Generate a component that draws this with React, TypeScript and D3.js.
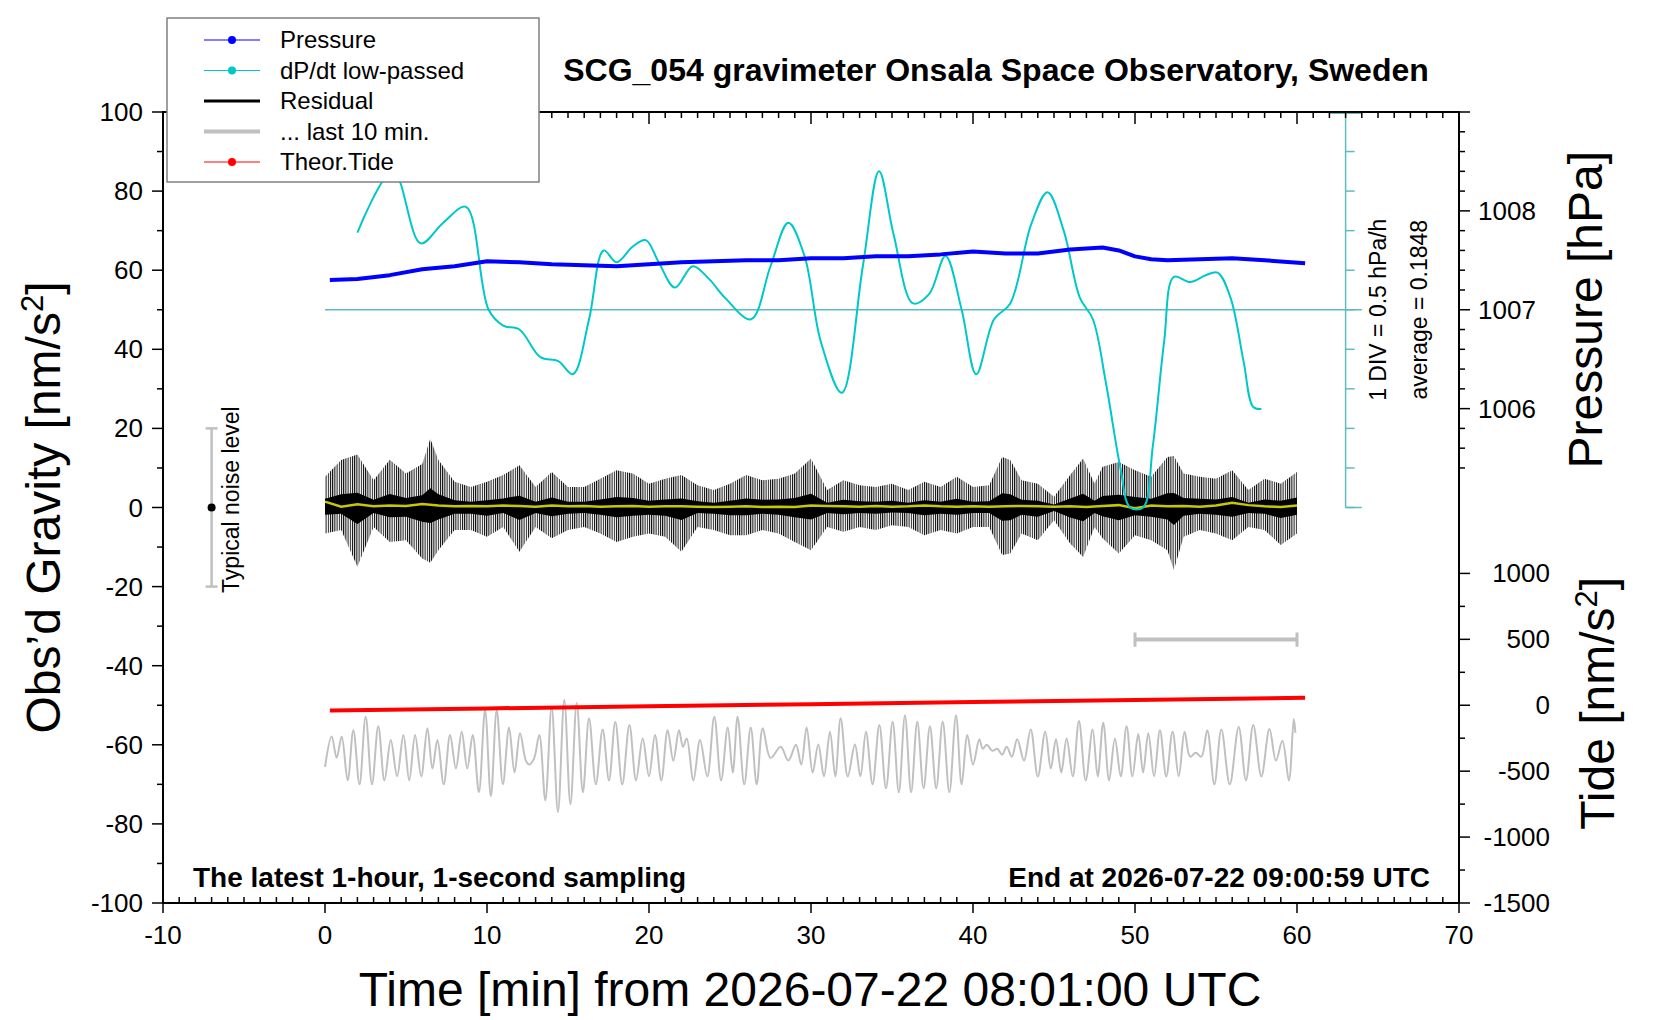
import React from 'react';
import * as d3 from 'd3';

const FONT = '"Liberation Sans", Arial, sans-serif';

// Pressure [hPa] vs time [min]
const pressT = [0.3, 2, 4, 6, 8, 10, 12, 14, 16, 18, 20, 22, 24, 26, 28, 30, 32, 34, 36, 38, 40, 42, 44, 46, 48, 49, 50, 51, 52, 54, 56, 58, 60.5];
const pressV = [1007.30, 1007.31, 1007.35, 1007.41, 1007.44, 1007.49, 1007.48, 1007.46, 1007.45, 1007.44, 1007.46, 1007.48, 1007.49, 1007.50, 1007.50, 1007.52, 1007.52, 1007.54, 1007.54, 1007.56, 1007.59, 1007.57, 1007.57, 1007.61, 1007.63, 1007.60, 1007.54, 1007.51, 1007.50, 1007.51, 1007.52, 1007.50, 1007.47];

// dP/dt low-passed, in plot units (50 = average, 10 = 0.5 hPa/h)
const dpdt: [number, number][] = [
  [2, 69.5], [4.2, 85], [5.9, 66.8], [7.3, 72], [8.7, 76], [10.1, 50], [11, 46], [12, 45], [13.3, 38], [14.4, 37], [15.3, 33.7],
  [16.3, 47.6], [17.2, 65], [18, 62], [19, 66], [19.8, 67.6], [20.6, 62], [21.6, 55.6], [22.7, 61], [23.7, 57.8], [24.7, 53],
  [26.3, 47.6], [27.5, 61], [28.6, 72], [29.6, 63.6], [30.6, 42], [31.9, 29], [33.2, 61], [34.2, 85], [35.1, 69], [36.3, 51.6],
  [37.3, 54], [38.3, 63.6], [39.3, 50], [40.2, 33.7], [41.3, 47.6], [42.3, 51.6], [43.6, 71.7], [44.6, 79.7], [45.6, 70],
  [46.6, 53], [47.4, 47.6], [48.2, 31.6], [49.1, 10], [49.7, 0], [50.5, 0], [51.1, 15.5], [51.8, 42], [52.4, 58.3], [53.4, 57],
  [54.4, 58.8], [55.1, 59.4], [55.9, 53], [56.7, 37], [57.3, 25.4], [57.8, 24.9],
];

// Residual envelope [nm/s^2]
const resT = [0, 1, 2, 3, 4, 5, 6, 6.5, 7, 8, 9, 10, 11, 12, 13, 14, 15, 16, 17, 18, 19, 20, 21, 22, 23, 24, 25, 26, 27, 28, 29, 30, 31, 32, 33, 34, 35, 36, 37, 38, 39, 40, 41, 41.8, 42.3, 43, 44, 45, 46, 46.8, 47.5, 48, 49, 50, 51, 52, 52.4, 53, 54, 55, 56, 57, 58, 59, 60];
const resHi = [7.8, 12, 13.4, 6.9, 12.1, 8.6, 11, 17.4, 12, 6.5, 5.2, 6.5, 8.2, 10.7, 5.2, 9, 5.2, 5.2, 7.3, 9.4, 8.6, 6, 7.3, 8.2, 5.6, 4.4, 6, 8.2, 6.9, 7.3, 8.6, 12.4, 4.4, 6.9, 5.6, 5.2, 6, 4.4, 6.5, 5.2, 7.8, 5.2, 5.6, 12.8, 12, 6.9, 6, 2.7, 8.2, 12.4, 6, 10.3, 11.5, 9.4, 7.8, 12.8, 13, 8.6, 7.8, 7.3, 9.4, 4.4, 7.3, 6, 9];
const resLo = [-6.6, -5.7, -15, -4.9, -8.7, -8.3, -12.9, -14, -10.8, -5.7, -5.7, -7.4, -4.9, -11.2, -4.9, -7.8, -5.7, -4.9, -6.6, -8.7, -7.4, -6.6, -7.4, -11.2, -4.9, -5.7, -7, -7, -5.7, -6.6, -8.7, -10.8, -4.9, -6.1, -4.9, -5.7, -4.5, -4.9, -7, -5.7, -6.6, -4.9, -4.9, -12, -11.6, -6.6, -8.3, -3.2, -9.1, -12.5, -4.9, -7.8, -11.6, -7, -8.3, -10.8, -15.8, -7.4, -5.7, -6.6, -8.3, -4.9, -5.7, -9.5, -6.6];

// Smoothed residual (yellow), one per minute
const smooth = [1.5, 0.2, 0.8, 0.3, 0.5, 0.4, 0.9, 0.5, 0.3, 0.4, 0.3, 0.5, 0.4, 0.2, 0.5, 0.3, 0.4, 0.2, 0.3, 0.4, 0.2, 0.3, 0.3, 0.2, 0.1, 0.2, 0.3, 0.1, 0.2, 0.1, 0.5, 0.4, 0.3, 0.2, 0.4, 0.2, 0.3, 0.5, 0.3, 0.2, 0.3, 0.2, 0.3, 0.4, 0.3, 0.2, 0.3, 0.1, 0.4, 0.6, -0.2, 0.5, 0.3, 0.4, 0.2, 0.5, 1.2, 0.6, 0.3, 0.1, 0.5];

// Last 10 min residual stretched over the hour (gray), peaks and troughs
const last10: [number, number][] = [
  [0, -65.6], [0.41, -57.9], [0.72, -63.3], [1.03, -57.9], [1.4, -69], [1.75, -56.3], [2.13, -70], [2.51, -52.9], [2.9, -70], [3.29, -55.3], [3.67, -69], [4.06, -58.8], [4.45, -68], [4.84, -57.5], [5.2, -69], [5.56, -57.5], [5.94, -68], [6.32, -55.8], [6.63, -66], [6.94, -58.8], [7.33, -70], [7.72, -57.5], [8.08, -66], [8.44, -56.7], [8.78, -66], [9.12, -57.5], [9.5, -72], [9.88, -51.2], [10.24, -73], [10.6, -51.2], [10.98, -70], [11.36, -55.6], [11.7, -67], [12.04, -57.1], [12.4, -64], [12.6, -65], [12.9, -63.5], [13.23, -57.5], [13.6, -74], [13.99, -50.4], [14.38, -77], [14.77, -48.7], [15.15, -75], [15.54, -49.4], [15.92, -72], [16.3, -53.3], [16.72, -70], [17.14, -56.1], [17.53, -69], [17.92, -54.2], [18.35, -70], [18.79, -55], [19.2, -69], [19.61, -58.4], [20, -68], [20.37, -57.5], [20.76, -69], [21.15, -56.3], [21.5, -64], [21.85, -56.3], [22.1, -60.5], [22.33, -58.4], [22.74, -69], [23.15, -58.8], [23.6, -68], [24.03, -52.9], [24.45, -69], [24.86, -55.6], [25.17, -67], [25.47, -52.9], [25.88, -70], [26.28, -55.6], [26.65, -70], [27.02, -55.8], [27.5, -63.3], [28.13, -60.5], [28.6, -64], [29.07, -60], [29.4, -65], [29.73, -55.6], [30.1, -67], [30.45, -59.9], [30.8, -68], [31.17, -56.7], [31.5, -68], [31.83, -53.3], [32.27, -68], [32.71, -59.9], [33.05, -68], [33.39, -56.7], [33.8, -70], [34.22, -55], [34.63, -71], [35.04, -54.2], [35.42, -72], [35.8, -52.5], [36.18, -72], [36.56, -54.2], [36.95, -71], [37.34, -55.3], [37.73, -71], [38.13, -54.2], [38.54, -72], [38.95, -52.5], [39.3, -70], [39.65, -57.5], [40, -65], [40.39, -58.6], [40.6, -61], [40.84, -60], [41.2, -61.5], [41.5, -61], [41.8, -62.5], [42.08, -60.5], [42.4, -63], [42.73, -58.6], [43.15, -64], [43.56, -56.1], [44, -68], [44.46, -56.7], [44.8, -66], [45.12, -58.6], [45.45, -67], [45.78, -58.4], [46.16, -68], [46.54, -54], [46.96, -69], [47.38, -56.1], [47.7, -68], [48.04, -54.4], [48.4, -69], [48.76, -58.4], [49.12, -68], [49.48, -55.3], [49.84, -68], [50.2, -57.3], [50.5, -67], [50.82, -57.1], [51.18, -68], [51.54, -56.3], [51.93, -68], [52.32, -56.7], [52.7, -68], [53.06, -56.7], [53.4, -63], [53.75, -62], [54.1, -63], [54.46, -56.3], [54.9, -70], [55.33, -56.1], [55.85, -70], [56.4, -55.5], [56.85, -69], [57.3, -55], [57.8, -68], [58.3, -56], [58.7, -64], [59.1, -59], [59.5, -69], [59.8, -53.5], [59.9, -57],
];

// Theoretical tide [nm/s^2]
const tideT = [0.3, 10, 20, 30, 40, 50, 60.5];
const tideV = [-39, -24, -8, 8, 24, 40, 57];

const xTicks = [-10, 0, 10, 20, 30, 40, 50, 60, 70];
const yTicks = [-100, -80, -60, -40, -20, 0, 20, 40, 60, 80, 100];
const pressTicks = [1006, 1007, 1008];
const tideTicks = [-1500, -1000, -500, 0, 500, 1000];

const legendItems = [
  { label: 'Pressure', color: '#0000ff', w: 1, dot: true },
  { label: 'dP/dt low-passed', color: '#00c8c8', w: 1, dot: true },
  { label: 'Residual', color: '#000000', w: 3, dot: false },
  { label: '... last 10 min.', color: '#c0c0c0', w: 4, dot: false },
  { label: 'Theor.Tide', color: '#ff0000', w: 1, dot: true },
];

const x = d3.scaleLinear().domain([-10, 70]).range([163, 1459]);
const y = d3.scaleLinear().domain([-100, 100]).range([903, 112]);
const pToG = (p: number) => 50 + (p - 1007) * 25;
const tideToG = (t: number) => t / 30 - 50;

export default function App() {
  const line = d3.line<[number, number]>().x(d => x(d[0])).y(d => y(d[1]));
  const curve = d3.line<[number, number]>().x(d => x(d[0])).y(d => y(d[1])).curve(d3.curveCatmullRom.alpha(0.5));
  const resArea = d3.area<number>().x((_, i) => x(resT[i])).y0((_, i) => y(resLo[i])).y1((_, i) => y(resHi[i]));
  const coreArea = d3.area<number>().x((_, i) => x(resT[i])).y0((_, i) => y(resLo[i] * 0.28)).y1((_, i) => y(resHi[i] * 0.28));
  const pressPts: [number, number][] = pressT.map((t, i) => [t, pToG(pressV[i])]);
  const tidePts: [number, number][] = tideT.map((t, i) => [t, tideToG(tideV[i])]);
  const smoothPts: [number, number][] = smooth.map((v, i) => [i, v]);
  const dTicks = d3.range(0, 101, 10);
  const teal = '#5fbcbc';

  return (
    <svg width={1660} height={1020} style={{ position: 'absolute', left: 0, top: 0, fontFamily: FONT }}>
      <defs>
        <pattern id="noise" width={2.2} height={4} patternUnits="userSpaceOnUse">
          <rect width={1} height={4} fill="#000" />
        </pattern>
        <clipPath id="plot"><rect x={163} y={112} width={1296} height={791} /></clipPath>
      </defs>

      <text x={996} y={81} textAnchor="middle" fontSize={32} fontWeight="bold">SCG_054 gravimeter Onsala Space Observatory, Sweden</text>

      <g clipPath="url(#plot)">
        {/* dP/dt axis */}
        <line x1={x(0)} x2={x(64)} y1={y(50)} y2={y(50)} stroke={teal} strokeWidth={1.5} />
        <line x1={x(63)} x2={x(63)} y1={y(0)} y2={y(100)} stroke={teal} strokeWidth={1.5} />
        <line x1={x(63)} x2={x(64)} y1={y(0)} y2={y(0)} stroke={teal} strokeWidth={1.5} />
        <line x1={x(62)} x2={x(64)} y1={y(100) + 1} y2={y(100) + 1} stroke={teal} strokeWidth={2} />
        {dTicks.map(v => (
          <line key={v} x1={x(63)} x2={x(63) + 9} y1={y(v)} y2={y(v)} stroke={teal} strokeWidth={1.5} />
        ))}

        {/* residual */}
        <path d={resArea(resT) ?? ''} fill="url(#noise)" />
        <path d={coreArea(resT) ?? ''} fill="#000" />
        <path d={line(smoothPts) ?? ''} fill="none" stroke="#c8c800" strokeWidth={2.5} />

        <path d={curve(dpdt) ?? ''} fill="none" stroke="#00c8c8" strokeWidth={2} />
        <path d={line(pressPts) ?? ''} fill="none" stroke="#0000ff" strokeWidth={4} strokeLinejoin="round" />
        <path d={curve(last10) ?? ''} fill="none" stroke="#c0c0c0" strokeWidth={2} />
        <path d={line(tidePts) ?? ''} fill="none" stroke="#ff0000" strokeWidth={4} />

        {/* 10-min scale bar */}
        <g stroke="#c0c0c0" strokeWidth={4}>
          <line x1={x(50)} x2={x(60)} y1={y(-33.4)} y2={y(-33.4)} />
          <line x1={x(50)} x2={x(50)} y1={y(-31.6)} y2={y(-35.2)} strokeWidth={3} />
          <line x1={x(60)} x2={x(60)} y1={y(-31.6)} y2={y(-35.2)} strokeWidth={3} />
        </g>

        {/* typical noise level */}
        <g stroke="#c0c0c0" strokeWidth={2.5}>
          <line x1={x(-7)} x2={x(-7)} y1={y(-20)} y2={y(20)} />
          <line x1={x(-7) - 6} x2={x(-7) + 6} y1={y(20)} y2={y(20)} />
          <line x1={x(-7) - 6} x2={x(-7) + 6} y1={y(-20)} y2={y(-20)} />
        </g>
        <circle cx={x(-7)} cy={y(0)} r={4} fill="#000" />
        <text transform={`translate(${x(-5.3)},${y(2)}) rotate(-90)`} textAnchor="middle" fontSize={23}>Typical noise level</text>
      </g>

      <rect x={163} y={112} width={1296} height={791} fill="none" stroke="#000" strokeWidth={2} />

      {d3.range(-10, 71, 1).map(t => (
        <g key={t}>
          <line x1={x(t)} x2={x(t)} y1={903} y2={t % 10 === 0 ? 913 : 897} stroke="#000" strokeWidth={1.5} />
          <line x1={x(t)} x2={x(t)} y1={112} y2={t % 10 === 0 ? 124 : 118} stroke="#000" strokeWidth={1.5} />
        </g>
      ))}
      {xTicks.map(t => (
        <text key={t} x={x(t)} y={944} textAnchor="middle" fontSize={26}>{t}</text>
      ))}
      <text x={810} y={1006} textAnchor="middle" fontSize={48}>Time [min] from 2026-07-22 08:01:00 UTC</text>

      {d3.range(-100, 101, 10).map(v => (
        <line key={v} x1={163} x2={v % 20 === 0 ? 152 : 157} y1={y(v)} y2={y(v)} stroke="#000" strokeWidth={1.5} />
      ))}
      {yTicks.map(v => (
        <text key={v} x={143} y={y(v) + 9} textAnchor="end" fontSize={26}>{v}</text>
      ))}
      <text transform={`translate(60,${y(0)}) rotate(-90)`} textAnchor="middle" fontSize={48}>
        Obs’d Gravity [nm/s<tspan dy={-17} fontSize={31}>2</tspan><tspan dy={17}>]</tspan>
      </text>

      {d3.range(1005.4, 1009.01, 0.2).map(p => {
        const g = pToG(p);
        if (g < 0 || g > 100) return null;
        const major = Math.abs(p - Math.round(p)) < 0.01;
        return <line key={p.toFixed(1)} x1={1459} x2={major ? 1470 : 1465} y1={y(g)} y2={y(g)} stroke="#000" strokeWidth={1.5} />;
      })}
      {pressTicks.map(p => (
        <text key={p} x={1478} y={y(pToG(p)) + 9} fontSize={26}>{p}</text>
      ))}
      <text transform={`translate(1602,${y(50)}) rotate(-90)`} textAnchor="middle" fontSize={48}>Pressure [hPa]</text>

      {d3.range(-1500, 1001, 250).map(v => (
        <line key={v} x1={1459} x2={v % 500 === 0 ? 1470 : 1465} y1={y(tideToG(v))} y2={y(tideToG(v))} stroke="#000" strokeWidth={1.5} />
      ))}
      {tideTicks.map(v => (
        <text key={v} x={1550} y={y(tideToG(v)) + 9} textAnchor="end" fontSize={26}>{v}</text>
      ))}
      <text transform={`translate(1614,${y(-49.5)}) rotate(-90)`} textAnchor="middle" fontSize={48}>
        Tide [nm/s<tspan dy={-17} fontSize={31}>2</tspan><tspan dy={17}>]</tspan>
      </text>

      <text transform={`translate(${x(65) + 8},${y(50)}) rotate(-90)`} textAnchor="middle" fontSize={23}>1 DIV = 0.5 hPa/h</text>
      <text transform={`translate(${x(67.5) + 8},${y(50)}) rotate(-90)`} textAnchor="middle" fontSize={23}>average = 0.1848</text>

      <text x={193} y={887} fontSize={28} fontWeight="bold">The latest 1-hour, 1-second sampling</text>
      <text x={1430} y={887} textAnchor="end" fontSize={28} fontWeight="bold">End at 2026-07-22 09:00:59 UTC</text>

      <rect x={167} y={18} width={372} height={164} fill="#fff" stroke="#808080" strokeWidth={1.5} />
      {legendItems.map((it, i) => {
        const ly = 40 + i * 30.5;
        return (
          <g key={it.label}>
            <line x1={204} x2={260} y1={ly} y2={ly} stroke={it.color} strokeWidth={it.w} />
            {it.dot && <circle cx={232} cy={ly} r={4} fill={it.color} />}
            <text x={280} y={ly + 8} fontSize={24}>{it.label}</text>
          </g>
        );
      })}
    </svg>
  );
}
